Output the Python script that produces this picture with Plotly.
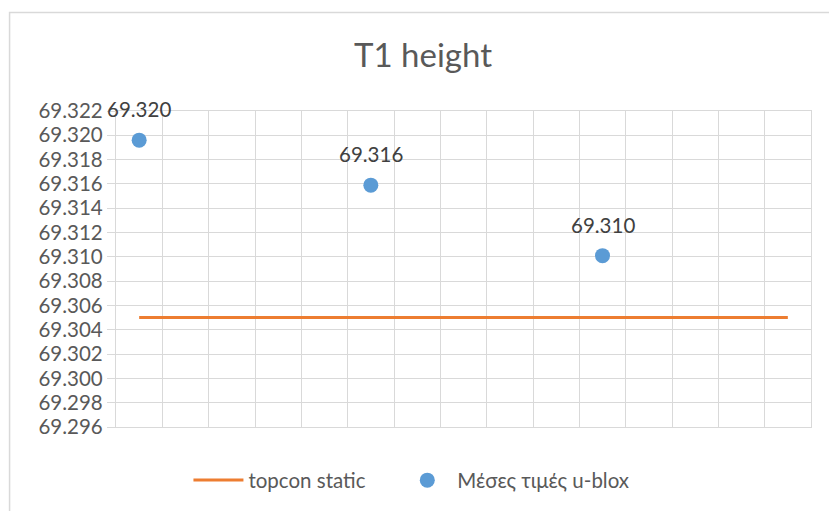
import plotly.graph_objects as go

# Data
point_x = [0.5, 5.5, 10.5]
ublox_mean = [69.3196, 69.3159, 69.3101]
topcon_x = [0.5, 14.5]
topcon_static = [69.305, 69.305]
y_ticks = [69.296, 69.298, 69.300, 69.302, 69.304, 69.306, 69.308,
           69.310, 69.312, 69.314, 69.316, 69.318, 69.320, 69.322]

W, H = 829, 511
L, R, T, B = 115.5, 18, 110.7, 83.3
pw, ph = W - L - R, H - T - B

def px_x(p):
    return (p - L) / pw

def px_y(p):
    return (H - B - p) / ph

fig = go.Figure()
fig.add_trace(go.Scatter(
    x=topcon_x, y=topcon_static, mode="lines", name="topcon static",
    line=dict(color="#ed7d31", width=3), legend="legend",
))
fig.add_trace(go.Scatter(
    x=point_x, y=ublox_mean, mode="markers", name="Μέσες τιμές u-blox",
    marker=dict(color="#5b9bd5", size=15), legend="legend2",
))

# Value labels above each u-blox point
for xv, yv in zip(point_x, ublox_mean):
    fig.add_annotation(
        x=xv, y=yv, text=f"{yv:.3f}", showarrow=False,
        yshift=31, yanchor="middle", xanchor="center",
        font=dict(size=20.5, color="#404040", family="Lato"),
    )

grid = "#d9d9d9"
fig.update_xaxes(
    range=[0, 15], dtick=1, tick0=0, showticklabels=False,
    showgrid=True, gridcolor=grid, gridwidth=1.3,
    showline=True, linecolor=grid, linewidth=1.3, mirror=True,
    zeroline=False, ticks="",
)
fig.update_yaxes(
    range=[69.296, 69.322], tickvals=y_ticks, tickformat=".3f",
    showgrid=True, gridcolor=grid, gridwidth=1.3,
    showline=True, linecolor=grid, linewidth=1.3, mirror=True,
    zeroline=False, ticks="outside", ticklen=8, tickcolor=grid, tickwidth=1.3,
    tickfont=dict(size=20.5, color="#595959", family="Lato"),
)

# Chart-area border
fig.add_shape(
    type="rect", xref="paper", yref="paper",
    x0=px_x(9), x1=px_x(840), y0=px_y(525), y1=px_y(12),
    line=dict(color=grid, width=1.5), fillcolor="rgba(0,0,0,0)", layer="below",
)

legend_style = dict(orientation="h", xanchor="left", yanchor="middle",
                    y=px_y(480), itemwidth=50, bgcolor="rgba(0,0,0,0)",
                    font=dict(size=20.5, color="#595959", family="Lato"))

fig.update_layout(
    width=W, height=H,
    margin=dict(l=L, r=R, t=T, b=B, pad=0),
    paper_bgcolor="white", plot_bgcolor="white",
    font=dict(family="Lato", color="#595959"),
    title=dict(text="T1 height", x=423 / W, xanchor="center",
               y=1 - 55 / H, yanchor="middle", yref="container",
               font=dict(size=33, color="#595959", family="Lato")),
    legend=dict(x=px_x(188), **legend_style),
    legend2=dict(x=px_x(397), **legend_style),
    showlegend=True,
)

fig.write_html("out.html")
